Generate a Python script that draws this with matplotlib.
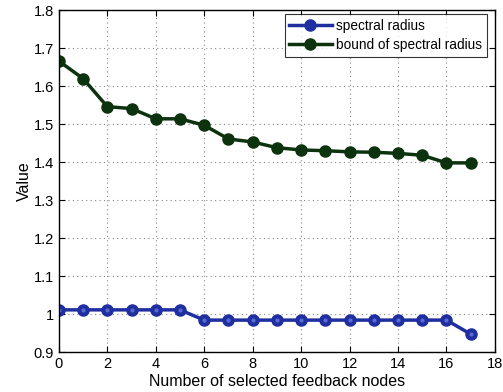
import matplotlib
matplotlib.use("Agg")
import matplotlib.pyplot as plt

plt.rcParams['font.family'] = ['Liberation Sans', 'DejaVu Sans']

x = list(range(18))
spectral_radius = [1.011, 1.011, 1.011, 1.011, 1.011, 1.011, 0.984, 0.984, 0.984,
                   0.984, 0.984, 0.984, 0.984, 0.984, 0.984, 0.984, 0.984, 0.947]
bound = [1.666, 1.620, 1.546, 1.541, 1.514, 1.514, 1.497, 1.461, 1.453,
         1.438, 1.432, 1.430, 1.427, 1.426, 1.423, 1.418, 1.398, 1.398]
xticks = list(range(0, 19, 2))
yticks = [0.9, 1.0, 1.1, 1.2, 1.3, 1.4, 1.5, 1.6, 1.7, 1.8]
yticklabels = ['0.9', '1', '1.1', '1.2', '1.3', '1.4', '1.5', '1.6', '1.7', '1.8']

fig = plt.figure(figsize=(5.03, 3.92), dpi=100)
ax = fig.add_axes([0.117, 0.102, 0.867, 0.872])

h1, = ax.plot(x, spectral_radius, '-o', color='#1f2fa0', lw=2.5, ms=8,
              mfc='#1f2fa0', mec='#1f2fa0', label='spectral radius')
ax.plot(x, spectral_radius, 'o', color='#5a6ad0', ms=3, mec='none')
h2, = ax.plot(x, bound, '-o', color='#0c330e', lw=2.5, ms=8,
              mfc='#0c330e', mec='#0c330e', label='bound of spectral radius')

ax.set_xlim(0, 18)
ax.set_ylim(0.9, 1.8)
ax.set_xticks(xticks)
ax.set_yticks(yticks)
ax.set_yticklabels(yticklabels)
ax.tick_params(direction='in', top=True, right=True, labelsize=10.5, length=4)
ax.grid(True, linestyle=(0, (1, 3)), color='#888888', lw=0.8)
ax.set_xlabel('Number of selected feedback nodes', fontsize=11.5, labelpad=2)
ax.set_ylabel('Value', fontsize=11.5, labelpad=1)
for s in ax.spines.values():
    s.set_linewidth(1.0)

leg = ax.legend([h1, h2], ['spectral radius', 'bound of spectral radius'], loc='upper right',
                fontsize=9.8, frameon=True, fancybox=False, edgecolor='black',
                handlelength=3.1, handletextpad=0.35, borderpad=0.35, labelspacing=0.35,
                borderaxespad=0, bbox_to_anchor=(0.982, 0.988))
leg.get_frame().set_linewidth(0.8)

fig.savefig('out.png', dpi=100)
